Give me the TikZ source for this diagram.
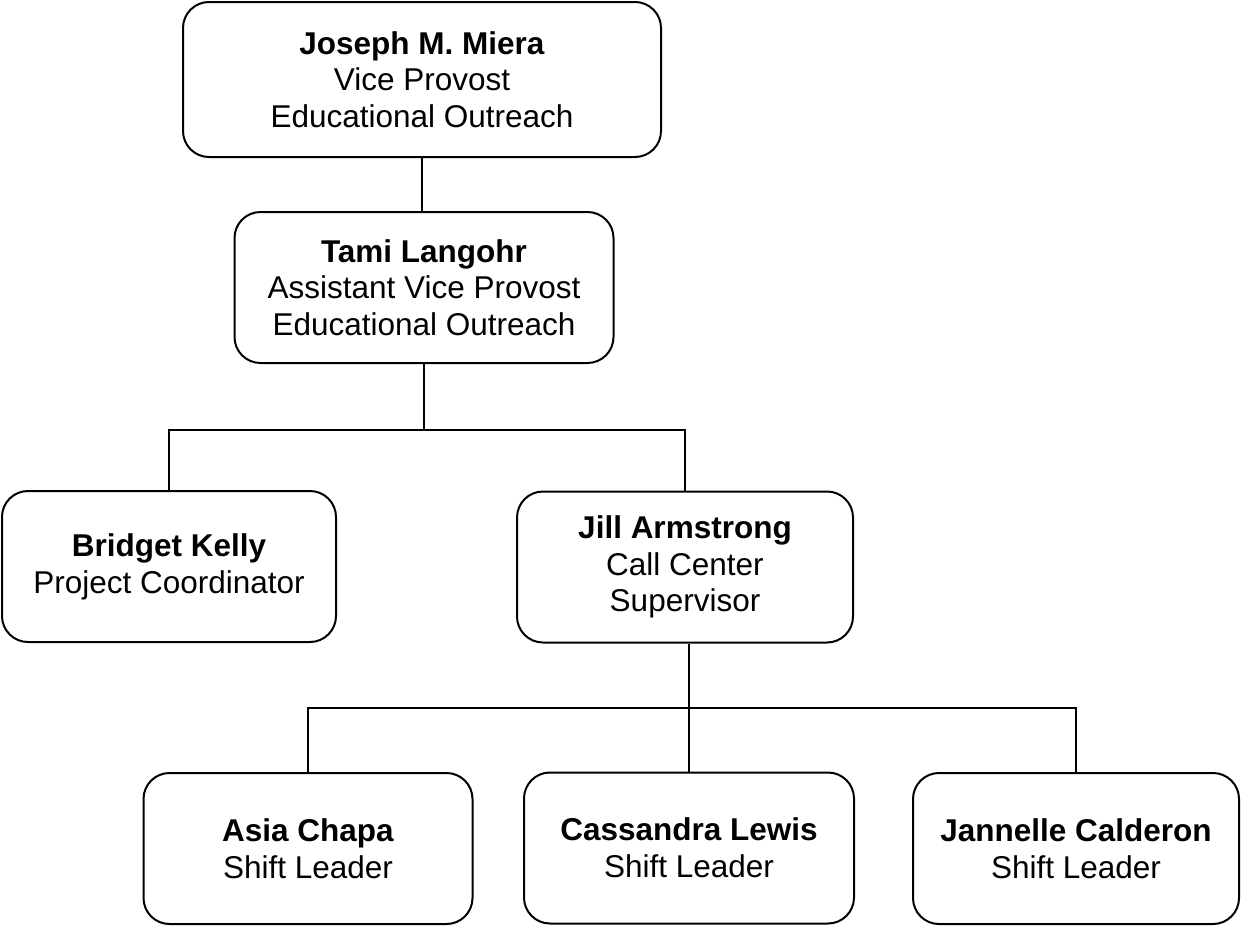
\documentclass[tikz,border=0pt]{standalone}
\usepackage{fontspec}
\setmainfont{Liberation Sans}
\begin{document}
\begin{tikzpicture}[x=1pt,y=-1pt,
  box/.style={draw=black, line width=2pt, rounded corners=26pt, inner sep=0pt, align=center,
    font=\fontsize{31.5}{36.7}\selectfont},
  conn/.style={draw=black, line width=2pt}]
\useasboundingbox (0,0) rectangle (1241,926);
\node[box, minimum width=478pt, minimum height=155pt] (top) at (422,79.5)
  {\textbf{Joseph M. Miera}\\Vice Provost\\Educational Outreach};
\node[box, minimum width=379pt, minimum height=151pt] (tami) at (424,287.5)
  {\textbf{Tami Langohr}\\Assistant Vice Provost\\Educational Outreach};
\node[box, minimum width=334pt, minimum height=151pt] (bridget) at (169,566.5)
  {\textbf{Bridget Kelly}\\Project Coordinator};
\node[box, minimum width=336pt, minimum height=151pt] (jill) at (685,567)
  {\textbf{Jill Armstrong}\\Call Center\\Supervisor};
\node[box, minimum width=329pt, minimum height=151pt] (asia) at (308,848.5)
  {\textbf{Asia Chapa}\\Shift Leader};
\node[box, minimum width=330pt, minimum height=151pt] (cass) at (689,848)
  {\textbf{Cassandra Lewis}\\Shift Leader};
\node[box, minimum width=326pt, minimum height=151pt] (jann) at (1076,848.5)
  {\textbf{Jannelle Calderon}\\Shift Leader};
\coordinate (b1) at (0,430);
\coordinate (b2) at (0,708);
\draw[conn] (top.south) -- (top.south |- tami.north);
\draw[conn] (tami.south) -- (tami.south |- b1);
\draw[conn] (bridget.north) -- (bridget.north |- b1) -- (jill.north |- b1) -- (jill.north);
\draw[conn] (cass.north |- jill.south) -- (cass.north);
\draw[conn] (asia.north) -- (asia.north |- b2) -- (jann.north |- b2) -- (jann.north);
\end{tikzpicture}
\end{document}
